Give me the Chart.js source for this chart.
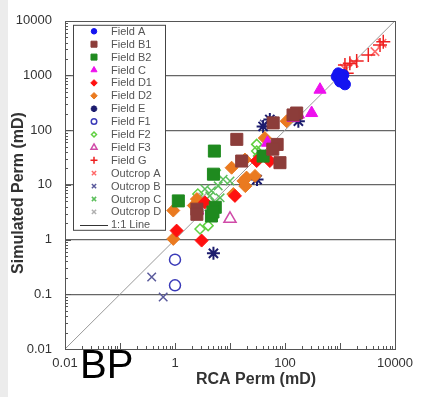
<!DOCTYPE html>
<html>
<head>
<meta charset="utf-8">
<script src="https://cdn.jsdelivr.net/npm/chart.js"></script>
<style>
  html, body { margin: 0; padding: 0; background: #fff; }
</style>
</head>
<body>
<canvas id="myChart" width="434" height="397"></canvas>
<script>
// RCA perm (x) vs simulated perm (y), mD
var fieldA_x = [871, 1000, 1150, 933, 1070, 1230];
var fieldA_y = [955, 776, 1023, 1096, 890, 690];
var fieldB1_x = [163, 140, 61, 13.3, 72, 60, 81, 16.3, 2.5, 2.5];
var fieldB1_y = [206, 190, 136, 68, 55, 45, 25.5, 27.3, 3.6, 2.9];
var fieldB2_x = [5.2, 5.0, 1.15, 5.4, 4.6, 4.9, 40];
var fieldB2_y = [41.5, 15.7, 5.1, 3.9, 2.7, 3.2, 33.6];
var fieldC_x = [433, 305, 175, 141, 48, 2.6];
var fieldC_y = [550, 206, 193, 168, 59, 3.4];
var fieldD1_x = [1.07, 3.05, 12.3, 3.5, 30.6, 53];
var fieldD1_y = [1.46, 0.96, 6.3, 4.8, 27.3, 27.3];
var fieldD2_x = [0.93, 0.93, 2.5, 11.5, 10.7, 18.7, 20, 19, 17.5, 28.5, 43, 107, 2.2];
var fieldD2_y = [3.4, 1.03, 5.5, 6.8, 20.6, 29, 13.6, 9.5, 11.8, 14.6, 72, 146, 4.2];
var fieldE_x = [5.0, 31, 40, 53, 175];
var fieldE_y = [0.56, 12.5, 117, 157, 146];
var fieldF1_x = [1.0, 1.0];
var fieldF1_y = [0.43, 0.146];
var fieldF2_x = [2.85, 4.0, 2.6, 30.6, 30.6, 33];
var fieldF2_y = [1.56, 1.8, 6.8, 55, 41.5, 33.6];
var fieldF3_x = [10];
var fieldF3_y = [2.4];
var fieldG_x = [1230, 1510, 2010, 3270, 5340, 6120, 1325];
var fieldG_y = [1560, 1675, 1850, 2380, 3610, 4150, 1096];
var outcropA_x = [1200, 4330, 5800, 1800];
var outcropA_y = [1350, 2730, 3900, 1700];
var outcropB_x = [0.377, 0.61, 42, 58];
var outcropB_y = [0.207, 0.089, 130, 150];
var outcropC_x = [3.5, 4.6, 6.1, 7.5, 10, 5.3, 4.3, 5.7, 6.6];
var outcropC_y = [8.4, 7.8, 9.6, 12.7, 11.8, 4.8, 6.3, 15.9, 5.8];
var outcropD_x = [3.2];
var outcropD_y = [6.0];
var lineX = [0.01, 10000];
var lineY = [0.01, 10000];

var xTickLabels = [0.01, 1, 100, 10000];
var yTickLabels = [0.01, 0.1, 1, 10, 100, 1000, 10000];
var yGridLines = [0.1, 1, 10, 100, 1000];

function pts(xs, ys) {
  return xs.map(function (x, i) { return { x: x, y: ys[i] }; });
}

function mark(label, xs, ys, style, color, r, filled, bw) {
  return {
    label: label,
    data: pts(xs, ys),
    pointStyle: style,
    pointRadius: r,
    pointHoverRadius: r,
    backgroundColor: filled ? color : 'rgba(0,0,0,0)',
    borderColor: color,
    borderWidth: bw,
    order: 0
  };
}

// decade + minor tick positions for the log axes
function logTicks(scale) {
  var t = [];
  for (var k = -2; k < 4; k++) {
    for (var m = 1; m < 10; m++) {
      t.push({ value: parseFloat((m * Math.pow(10, k)).toPrecision(3)) });
    }
  }
  t.push({ value: 10000 });
  scale.ticks = t;
}

var datasets = [
  mark('Field A', fieldA_x, fieldA_y, 'circle', '#1414f0', 5.5, true, 1),
  mark('Field B1', fieldB1_x, fieldB1_y, 'rect', '#8c3d3a', 8.5, true, 1),
  mark('Field B2', fieldB2_x, fieldB2_y, 'rect', '#1f8a1f', 8.5, true, 1),
  mark('Field C', fieldC_x, fieldC_y, 'triangle', '#ee10ee', 7, true, 1),
  mark('Field D1', fieldD1_x, fieldD1_y, 'rectRot', '#ff1010', 6.5, true, 1),
  mark('Field D2', fieldD2_x, fieldD2_y, 'rectRot', '#ea7a20', 6.5, true, 1),
  mark('Field E', fieldE_x, fieldE_y, 'star', '#1c1c6e', 6.5, false, 2),
  mark('Field F1', fieldF1_x, fieldF1_y, 'circle', '#3a3ab8', 5.5, false, 1.5),
  mark('Field F2', fieldF2_x, fieldF2_y, 'rectRot', '#5fd040', 5, false, 1.5),
  mark('Field F3', fieldF3_x, fieldF3_y, 'triangle', '#d04aa8', 7, false, 1.5),
  mark('Field G', fieldG_x, fieldG_y, 'cross', '#ee2020', 7, false, 1.5),
  mark('Outcrop A', outcropA_x, outcropA_y, 'crossRot', '#ff6a6a', 6, false, 1.5),
  mark('Outcrop B', outcropB_x, outcropB_y, 'crossRot', '#5a5a9c', 6, false, 1.5),
  mark('Outcrop C', outcropC_x, outcropC_y, 'crossRot', '#5cbf5c', 6, false, 1.5),
  mark('Outcrop D', outcropD_x, outcropD_y, 'crossRot', '#b0b0b0', 6, false, 1.5),
  {
    type: 'line',
    label: '1:1 Line',
    data: pts(lineX, lineY),
    borderColor: '#999',
    borderWidth: 1,
    pointRadius: 0,
    fill: false,
    order: 1
  }
];

var extras = {
  id: 'extras',
  beforeDraw: function (chart) {
    var c = chart.ctx;
    c.save();
    c.fillStyle = '#fff';
    c.fillRect(0, 0, chart.width, chart.height);
    c.fillStyle = '#ececec';
    c.fillRect(0, 0, 8, chart.height);
    c.restore();
  },
  afterDraw: function (chart) {
    var c = chart.ctx, a = chart.chartArea;
    var xs = chart.scales.x, ys = chart.scales.y;
    c.save();
    c.strokeStyle = '#555';
    c.lineWidth = 1;
    c.strokeRect(Math.round(a.left) + 0.5, Math.round(a.top) + 0.5,
      Math.round(a.right - a.left), Math.round(a.bottom - a.top));

    // inward tick marks
    c.beginPath();
    xs.ticks.forEach(function (t) {
      var p = Math.round(xs.getPixelForValue(t.value)) + 0.5;
      var len = yTickLabels.indexOf(t.value) >= 0 ? 6 : 3;
      c.moveTo(p, a.bottom); c.lineTo(p, a.bottom - len);
    });
    ys.ticks.forEach(function (t) {
      var p = Math.round(ys.getPixelForValue(t.value)) + 0.5;
      var len = yTickLabels.indexOf(t.value) >= 0 ? 6 : 3;
      c.moveTo(a.left, p); c.lineTo(a.left + len, p);
    });
    c.stroke();

    // legend box
    var lx = a.left + 8, ly = a.top + 4, lw = 92, lh = 205;
    c.fillStyle = '#fff';
    c.fillRect(lx, ly, lw, lh);
    c.strokeStyle = '#444';
    c.strokeRect(lx + 0.5, ly + 0.5, lw, lh);
    c.font = '11px "Liberation Sans", Arial, sans-serif';
    c.textBaseline = 'middle';
    chart.data.datasets.forEach(function (ds, i) {
      var cy = ly + 6.5 + i * 12.9;
      c.save();
      if (ds.type === 'line') {
        c.strokeStyle = '#333';
        c.lineWidth = 1;
        c.beginPath();
        c.moveTo(lx + 7, Math.round(cy) + 0.5);
        c.lineTo(lx + 35, Math.round(cy) + 0.5);
        c.stroke();
      } else {
        c.fillStyle = ds.backgroundColor;
        c.strokeStyle = ds.borderColor;
        c.lineWidth = ds.borderWidth;
        Chart.helpers.drawPoint(c, {
          pointStyle: ds.pointStyle,
          radius: ds.pointRadius * 0.5,
          rotation: 0,
          borderWidth: ds.borderWidth
        }, lx + 21, cy);
      }
      c.restore();
      c.fillStyle = '#555';
      c.fillText(ds.label, lx + 38, cy + 0.5);
    });

    // axis titles
    c.fillStyle = '#333';
    c.font = 'bold 16px "Liberation Sans", Arial, sans-serif';
    c.textAlign = 'center';
    c.textBaseline = 'middle';
    c.fillText('RCA Perm (mD)', 256, 380);
    c.save();
    c.translate(19, 193);
    c.rotate(-Math.PI / 2);
    c.fillText('Simulated Perm (mD)', 0, 0);
    c.restore();

    // watermark
    c.fillStyle = '#000';
    c.font = '40px "Liberation Sans", Arial, sans-serif';
    c.textAlign = 'left';
    c.textBaseline = 'alphabetic';
    c.fillText('BP', 80, 378);
    c.restore();
  }
};

new Chart(document.getElementById('myChart'), {
  type: 'scatter',
  data: { datasets: datasets },
  options: {
    responsive: false,
    animation: false,
    devicePixelRatio: 1,
    layout: { padding: { left: 0, top: 19, right: 39, bottom: 0 } },
    plugins: { legend: { display: false }, tooltip: { enabled: false } },
    scales: {
      x: {
        type: 'logarithmic',
        min: 0.01,
        max: 10000,
        afterBuildTicks: logTicks,
        afterFit: function (s) { s.height = 48; },
        border: { display: false },
        grid: { display: false, drawTicks: false },
        ticks: {
          autoSkip: false,
          maxRotation: 0,
          padding: 7,
          color: '#333',
          font: { family: '"Liberation Sans", Arial, sans-serif', size: 13 },
          callback: function (v) { return xTickLabels.indexOf(v) >= 0 ? String(v) : ''; }
        }
      },
      y: {
        type: 'logarithmic',
        min: 0.01,
        max: 10000,
        afterBuildTicks: logTicks,
        afterFit: function (s) { s.width = 65; },
        border: { display: false },
        grid: {
          drawTicks: false,
          lineWidth: 1.3,
          color: function (ctx) {
            return ctx.tick && yGridLines.indexOf(ctx.tick.value) >= 0 ? '#666' : 'rgba(0,0,0,0)';
          }
        },
        ticks: {
          autoSkip: false,
          padding: 13,
          color: '#333',
          font: { family: '"Liberation Sans", Arial, sans-serif', size: 13 },
          callback: function (v) { return yTickLabels.indexOf(v) >= 0 ? String(v) : ''; }
        }
      }
    }
  },
  plugins: [extras]
});
</script>
</body>
</html>
